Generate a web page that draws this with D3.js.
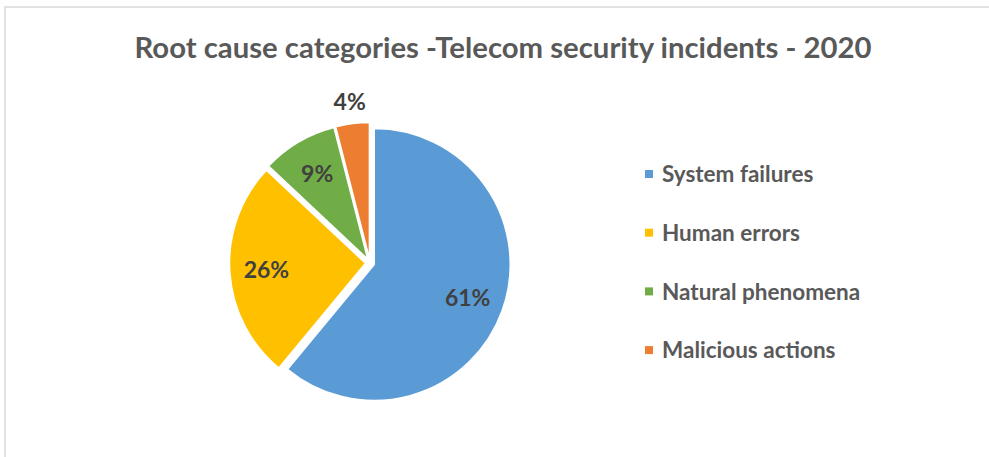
<!DOCTYPE html>
<html>
<head>
<meta charset="utf-8">
<script src="https://cdn.jsdelivr.net/npm/d3@7"></script>
<style>
  html, body { margin: 0; padding: 0; background: #ffffff; }
  svg { display: block; }
  text { font-family: Lato, "Open Sans", sans-serif; font-weight: bold; }
</style>
</head>
<body>
<svg id="chart" width="989" height="457"></svg>
<script>
// Root cause shares of telecom security incidents, 2020 (percent)
const categories = ["System failures", "Human errors", "Natural phenomena", "Malicious actions"];
const shares = [61, 26, 9, 4];
const colors = ["#5B9BD5", "#FFC000", "#70AD47", "#ED7D31"];
const titleText = "Root cause categories -Telecom security incidents - 2020";

const svg = d3.select("#chart");
const W = 989, H = 457;

// chart frame
svg.append("rect")
  .attr("x", 5).attr("y", 7)
  .attr("width", W + 20).attr("height", H + 20)
  .attr("fill", "#ffffff")
  .attr("stroke", "#d9d9d9").attr("stroke-width", 1.5);

// title
svg.append("text")
  .attr("x", 503).attr("y", 58)
  .attr("text-anchor", "middle")
  .attr("font-size", 29.3)
  .attr("fill", "#595959")
  .text(titleText);

// pie
const cx = 370, cy = 263, radius = 136, explode = 4.5;
const pie = d3.pie().sort(null).value(d => d.value);
const arcs = pie(categories.map((c, i) => ({ name: c, value: shares[i], color: colors[i] })));
const arc = d3.arc().innerRadius(0).outerRadius(radius);
const labelArc = d3.arc().innerRadius(radius * 0.73).outerRadius(radius * 0.73);
const outerLabelArc = d3.arc().innerRadius(radius + 22).outerRadius(radius + 22);

const g = svg.append("g").attr("transform", `translate(${cx},${cy})`);

function offset(d) {
  const a = (d.startAngle + d.endAngle) / 2;
  return [explode * Math.sin(a), -explode * Math.cos(a)];
}

const slices = g.selectAll("g.slice").data(arcs).join("g")
  .attr("class", "slice")
  .attr("transform", d => { const o = offset(d); return `translate(${o[0]},${o[1]})`; });

slices.append("path")
  .attr("d", arc)
  .attr("fill", d => d.data.color)
  .attr("stroke", "#ffffff")
  .attr("stroke-width", 1.5)
  .attr("stroke-linejoin", "round");

// data labels (small slice placed outside)
slices.append("text")
  .attr("transform", d => {
    const p = (d.data.value < 5 ? outerLabelArc : labelArc).centroid(d);
    return `translate(${p[0]},${p[1]})`;
  })
  .attr("text-anchor", "middle")
  .attr("dy", "0.36em")
  .attr("font-size", 23)
  .attr("fill", "#404040")
  .text(d => d.data.value + "%");

// legend
const legend = svg.append("g").attr("transform", "translate(645,174)");
const item = legend.selectAll("g").data(categories).join("g")
  .attr("transform", (d, i) => `translate(0,${i * 58.7})`);
item.append("rect")
  .attr("x", 0).attr("y", -4)
  .attr("width", 8).attr("height", 8)
  .attr("fill", (d, i) => colors[i]);
item.append("text")
  .attr("x", 17).attr("dy", "0.36em")
  .attr("font-size", 22.5)
  .attr("fill", "#595959")
  .text(d => d);
</script>
</body>
</html>
